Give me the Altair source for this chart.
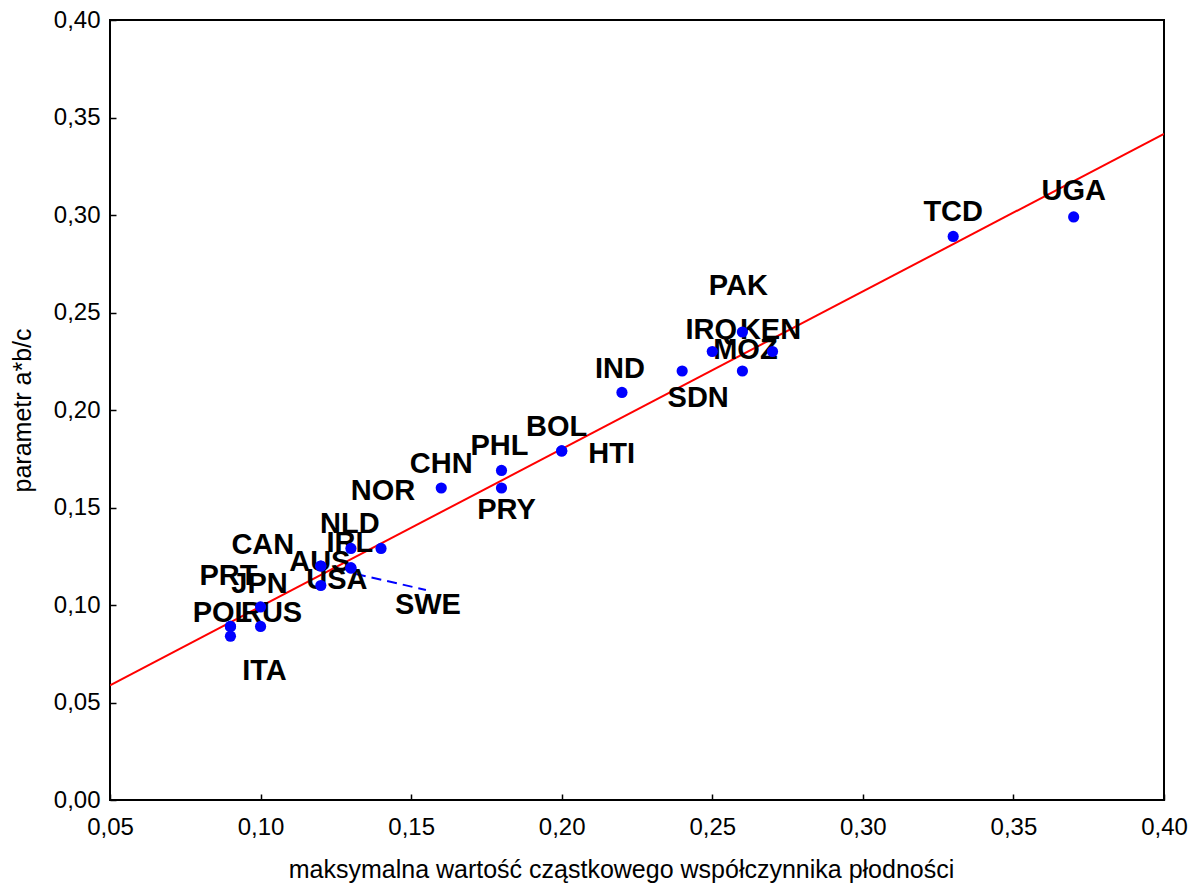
import altair as alt
import pandas as pd

# ---- data ----
countries = ["UGA", "TCD", "PAK", "IRQ", "KEN", "MOZ", "SDN", "IND", "BOL", "HTI",
             "PHL", "PRY", "CHN", "NOR", "NLD", "IRL", "SWE", "AUS", "USA", "CAN",
             "JPN", "RUS", "POL", "PRT", "ITA"]
max_asfr = [0.37, 0.33, 0.26, 0.25, 0.27, 0.26, 0.24, 0.22, 0.20, 0.20,
            0.18, 0.18, 0.16, 0.14, 0.13, 0.13, 0.13, 0.12, 0.12, 0.12,
            0.10, 0.10, 0.09, 0.09, 0.09]
param_abc = [0.299, 0.289, 0.240, 0.230, 0.230, 0.220, 0.220, 0.209, 0.179, 0.179,
             0.169, 0.160, 0.160, 0.129, 0.129, 0.119, 0.119, 0.110, 0.120, 0.120,
             0.099, 0.089, 0.089, 0.089, 0.084]

# label placement (pixel offsets of label centre from its point)
label_dx = [0, 0, -4, -1, -2, 3, 16, -2, -5, 50,
            -2, 5, 0, 2, -1, -1, 77, -1, 16, -58,
            -1, 11, -8, -2, 34]
label_dy = [-27, -25, -47, -23, -23, -22, 26, -24, -25, 2,
            -25, 21, -25, -58, -25, -26, 36, -25, 13, -22,
            -24, -14, -14, -51, 34]

x_ticks = [0.05, 0.10, 0.15, 0.20, 0.25, 0.30, 0.35, 0.40]
y_ticks = [0.00, 0.05, 0.10, 0.15, 0.20, 0.25, 0.30, 0.35, 0.40]

x_title = "maksymalna wartość cząstkowego współczynnika płodności"
y_title = "parametr a*b/c"

df = pd.DataFrame({"kraj": countries, "x": max_asfr, "y": param_abc})

FONT = "Liberation Sans"
fmt = "replace(format(datum.value, '.2f'), '.', ',')"

x_axis = alt.Axis(values=x_ticks, labelExpr=fmt, title=x_title, offset=-6,
                  tickSize=6, tickWidth=1.5, tickColor="black", domain=False, grid=False,
                  labelPadding=15, labelFontSize=24, labelFont=FONT, labelColor="black",
                  labelOverlap=False, labelFlush=False,
                  titleFont=FONT, titleFontSize=25, titleFontWeight="normal", titleColor="black",
                  titleX=511, titleY=83, titleBaseline="alphabetic", titleAlign="center")
y_axis = alt.Axis(values=y_ticks, labelExpr=fmt, title=y_title, offset=-6,
                  tickSize=6, tickWidth=1.5, tickColor="black", domain=False, grid=False,
                  labelPadding=10, labelFontSize=24, labelFont=FONT, labelColor="black",
                  labelOverlap=False, labelFlush=False,
                  titleFont=FONT, titleFontSize=25, titleFontWeight="normal", titleColor="black",
                  titleAngle=270, titleX=-86, titleY=390, titleBaseline="alphabetic",
                  titleAlign="center")

xs = alt.Scale(domain=[0.05, 0.40], nice=False, zero=False)
ys = alt.Scale(domain=[0.0, 0.40], nice=False, zero=False)

X = alt.X("x:Q", scale=xs, axis=x_axis)
Y = alt.Y("y:Q", scale=ys, axis=y_axis)

base = alt.Chart(df)

fit = base.transform_regression("x", "y", extent=[0.05, 0.40]).mark_line(
    color="#ff0000", strokeWidth=2, clip=True
).encode(x=X, y=Y)

leader = base.transform_filter(alt.datum.kraj == "SWE").mark_rule(
    color="#0000ff", strokeWidth=2, strokeDash=[10, 6],
    xOffset=5, yOffset=6, x2Offset=75, y2Offset=22
).encode(x=X, y=Y, x2=alt.X2("x"), y2=alt.Y2("y"))

labels = []
for c, ddx, ddy in zip(countries, label_dx, label_dy):
    labels.append(
        base.transform_filter(alt.datum.kraj == c).mark_text(
            font=FONT, fontWeight="bold", fontSize=29, color="black",
            align="center", baseline="alphabetic", dx=ddx, dy=ddy + 10
        ).encode(x=X, y=Y, text="kraj:N")
    )

points = base.mark_circle(color="#0000ff", size=125, opacity=1).encode(x=X, y=Y)

chart = alt.layer(fit, leader, *labels, points).properties(
    width=1054, height=780,
    padding={"left": 102, "top": 12, "right": 30, "bottom": 83},
    autosize=alt.AutoSizeParams(type="none"),
).configure_view(stroke="black", strokeWidth=2)

chart.save("out.html", embed_options={"renderer": "svg", "actions": False})
